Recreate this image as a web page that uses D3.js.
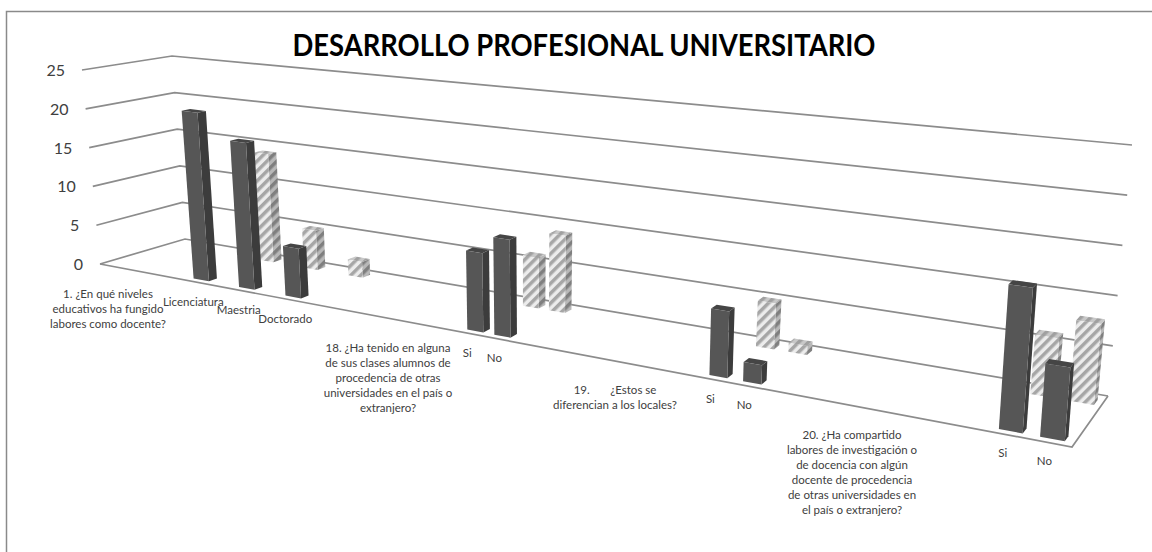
<!DOCTYPE html>
<html>
<head>
<meta charset="utf-8">
<script src="https://cdn.jsdelivr.net/npm/d3@7"></script>
<style>
  html, body { margin: 0; padding: 0; background: #fff; }
  text { font-family: Lato, "Open Sans", sans-serif; fill: #404040; }
</style>
</head>
<body>
<div id="chart"></div>
<script>
// chart values
var categories = ['Licenciatura', 'Maestria', 'Doctorado', 'Si', 'No', 'Si', 'No', 'Si', 'No'];
var seriesFront = [21, 18, 6, 9, 11, 7, 2, 14, 7];
var seriesBack = [14, 5, 2, 6, 9, 5, 1, 6, 8];
var valueTicks = [0, 5, 10, 15, 20, 25];
var questions = [
  ['1. ¿En qué niveles', 'educativos ha fungido', 'labores como docente?'],
  ['18. ¿Ha tenido en alguna', 'de sus clases alumnos de', 'procedencia de otras', 'universidades en el país o', 'extranjero?'],
  ['19.\u00a0\u00a0\u00a0\u00a0\u00a0\u00a0\u00a0¿Estos se', 'diferencian a los locales?'],
  ['20. ¿Ha compartido', 'labores de investigación o', 'de docencia con algún', 'docente de procedencia', 'de otras universidades en', 'el país o extranjero?']
];
var title = 'DESARROLLO PROFESIONAL UNIVERSITARIO';

var width = 1152, height = 552;

var svg = d3.select('#chart').append('svg')
  .attr('width', width)
  .attr('height', height)
  .style('display', 'block');

var defs = svg.append('defs');
function hatch(id, bg, fg) {
  var p = defs.append('pattern')
    .attr('id', id)
    .attr('patternUnits', 'userSpaceOnUse')
    .attr('width', 7)
    .attr('height', 7)
    .attr('patternTransform', 'rotate(-45)');
  p.append('rect').attr('width', 7).attr('height', 7).attr('fill', bg);
  p.append('rect').attr('width', 7).attr('height', 3.5).attr('fill', fg);
}
hatch('hatchFront', '#ececec', '#a6a6a6');
hatch('hatchSide', '#b8b8b8', '#7f7f7f');
hatch('hatchTop', '#c8c8c8', '#a0a0a0');

// outer frame, only top and left show in the shot
svg.append('path')
  .attr('d', 'M6.5,' + height + 'V11.5H' + width)
  .attr('fill', 'none')
  .attr('stroke', '#8a8a8a')
  .attr('stroke-width', 1.5);

// floor corners and the vertical lift at each of them (at the top value)
var FL = [100, 264], FR = [1072, 447], BL = [185, 239], BR = [1108, 396];
var liftFL = [-18, -194], liftFR = [20, -265], liftBL = [-13, -183], liftBR = [24, -251];

var lerp = (a, b, t) => [a[0] + (b[0] - a[0]) * t, a[1] + (b[1] - a[1]) * t];

var yScale = d3.scaleLinear().domain([0, 25]).range([0, 1]);

// u along the front edge, piecewise since the categories are not evenly spread
var uScale = d3.scaleLinear()
  .domain(d3.range(categories.length))
  .range([.098, .145, .193, .381, .409, .632, .667, .934, .977]);

// w goes from front wall to back wall
var depthScale = d3.scalePoint().domain(['front', 'back']).range([.075, .8]);

// perspective: bars widen towards the right, the back row slides a bit
var halfWidth = {
  front: d3.scaleLinear().domain([0, .4, .65, 1]).range([.0078, .0083, .0093, .013]),
  back: d3.scaleLinear().domain([0, .4, .65, 1]).range([.0067, .0086, .0098, .0135])
};
var rowShift = {
  front: () => 0,
  back: d3.scaleLinear().domain([0, .67, 1]).range([.008, .008, .002])
};

function project(u, w, v) {
  var base = lerp(lerp(FL, FR, u), lerp(BL, BR, u), w);
  var lift = lerp(lerp(liftFL, liftFR, u), lerp(liftBL, liftBR, u), w);
  var t = yScale(v);
  return [base[0] + lift[0] * t, base[1] + lift[1] * t];
}

var line = d3.line();

// gridlines on the side and back walls
svg.append('g').selectAll('path')
  .data(valueTicks)
  .enter()
  .append('path')
  .attr('d', d => line([project(0, 0, d), project(0, 1, d), project(1, 1, d)]))
  .attr('fill', 'none')
  .attr('stroke', '#8c8c8c')
  .attr('stroke-width', 1.7);

// floor edges
svg.append('path')
  .attr('d', line([FL, FR, BR]))
  .attr('fill', 'none')
  .attr('stroke', '#8c8c8c')
  .attr('stroke-width', 1.7);

// tick labels
svg.append('g').selectAll('text')
  .data(valueTicks)
  .enter()
  .append('text')
  .attr('x', d => project(0, 0, d)[0] - 17)
  .attr('y', d => project(0, 0, d)[1] + 6)
  .attr('text-anchor', 'end')
  .attr('font-size', 16)
  .text(d => d);

function drawBars(values, key) {
  var w0 = depthScale(key), w1 = w0 + .1;
  var fills = key === 'front'
    ? {front: '#565656', side: '#3c3c3c', top: '#454545'}
    : {front: 'url(#hatchFront)', side: 'url(#hatchSide)', top: 'url(#hatchTop)'};
  var bar = svg.append('g').selectAll('g')
    .data(values)
    .enter()
    .append('g');

  function face(d, i, pts) {
    var u = uScale(i);
    return line(pts(u + rowShift[key](u), halfWidth[key](u), d)) + 'Z';
  }
  bar.append('path')
    .attr('fill', fills.side)
    .attr('d', (d, i) => face(d, i, (u, h, v) => [
      project(u + h, w0, 0), project(u + h, w1, 0), project(u + h, w1, v), project(u + h, w0, v)
    ]));
  bar.append('path')
    .attr('fill', fills.top)
    .attr('d', (d, i) => face(d, i, (u, h, v) => [
      project(u - h, w0, v), project(u + h, w0, v), project(u + h, w1, v), project(u - h, w1, v)
    ]));
  bar.append('path')
    .attr('fill', fills.front)
    .attr('d', (d, i) => face(d, i, (u, h, v) => [
      project(u - h, w0, 0), project(u + h, w0, 0), project(u + h, w0, v), project(u - h, w0, v)
    ]));
}

drawBars(seriesBack, 'back');
drawBars(seriesFront, 'front');

// category labels hang off the foot of the front bars
svg.append('g').selectAll('text')
  .data(categories)
  .enter()
  .append('text')
  .attr('x', (d, i) => project(uScale(i), depthScale('front'), 0)[0] - 8)
  .attr('y', (d, i) => project(uScale(i), depthScale('front'), 0)[1] + 26)
  .attr('text-anchor', 'middle')
  .attr('font-size', 11.5)
  .text(d => d);

// question labels
var questionX = d3.scaleOrdinal().domain(d3.range(questions.length)).range([108, 388, 615, 852]);
var questionY = d3.scaleOrdinal().domain(d3.range(questions.length)).range([298, 352, 394, 439]);
var q = svg.append('g').selectAll('text')
  .data(questions)
  .enter()
  .append('text')
  .attr('text-anchor', 'middle')
  .attr('font-size', 11.5)
  .attr('y', (d, i) => questionY(i));
q.selectAll('tspan')
  .data((d, i) => d.map(t => ({t: t, q: i})))
  .enter()
  .append('tspan')
  .attr('x', d => questionX(d.q))
  .attr('dy', (d, i) => i ? 15 : 0)
  .text(d => d.t);

svg.append('text')
  .attr('x', 584)
  .attr('y', 55.5)
  .attr('text-anchor', 'middle')
  .attr('font-size', 29.5)
  .attr('font-weight', 700)
  .attr('textLength', 583)
  .attr('lengthAdjust', 'spacingAndGlyphs')
  .style('fill', '#000')
  .text(title);
</script>
</body>
</html>
